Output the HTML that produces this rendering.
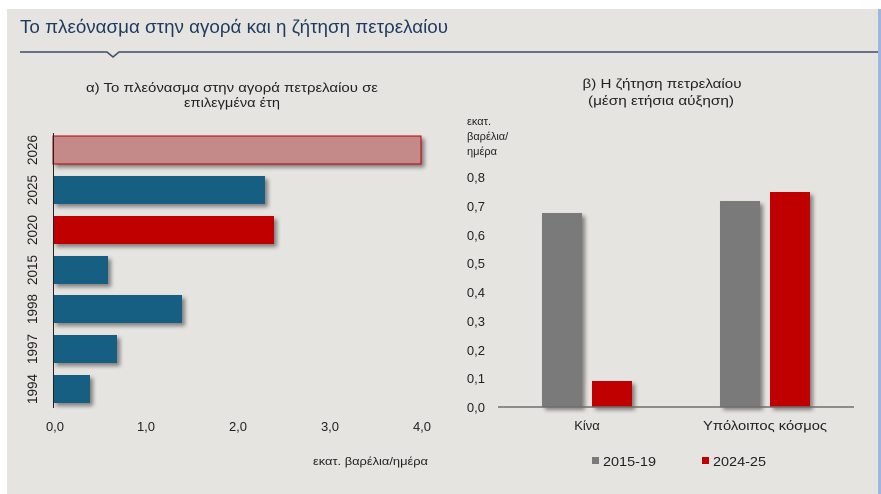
<!DOCTYPE html>
<html><head><meta charset="utf-8"><style>
html,body{margin:0;padding:0;background:#fff;}
svg{display:block;font-family:"Liberation Sans","DejaVu Sans",sans-serif;}
</style></head><body>
<svg width="881" height="494" viewBox="0 0 881 494" xmlns="http://www.w3.org/2000/svg">
<defs>
<filter id="sh" x="-10%" y="-20%" width="130%" height="160%"><feGaussianBlur in="SourceAlpha" stdDeviation="2"/><feOffset dx="3" dy="3"/><feComponentTransfer><feFuncA type="linear" slope="0.45"/></feComponentTransfer><feMerge><feMergeNode/><feMergeNode in="SourceGraphic"/></feMerge></filter>
</defs>
<rect x="0" y="0" width="881" height="494" fill="#ffffff"/>
<rect x="7" y="9" width="871" height="485" fill="#e6e4e0"/>
<rect x="878" y="9" width="3" height="485" fill="#9db6de"/>
<text x="20" y="33" font-size="18" fill="#1f3a5f" textLength="428" lengthAdjust="spacingAndGlyphs">Το πλεόνασμα στην αγορά και η ζήτηση πετρελαίου</text>
<polyline points="20,52 107,52 113,57 119,52 878,52" fill="none" stroke="#3d4e6a" stroke-width="1.5"/>
<g font-size="13" fill="#222" text-anchor="middle">
<text x="232" y="92" textLength="292" lengthAdjust="spacingAndGlyphs">α) Το πλεόνασμα στην αγορά πετρελαίου σε</text>
<text x="232" y="107" textLength="96" lengthAdjust="spacingAndGlyphs">επιλεγμένα έτη</text>
<text x="662" y="88" textLength="159" lengthAdjust="spacingAndGlyphs">β) Η ζήτηση πετρελαίου</text>
<text x="661" y="105" textLength="146" lengthAdjust="spacingAndGlyphs">(μέση ετήσια αύξηση)</text>
</g>
<!-- left chart -->
<g filter="url(#sh)">
<rect x="53" y="136" width="368" height="28" fill="#c48a8a" stroke="#c00000" stroke-width="1"/>
<rect x="53" y="176" width="212" height="28" fill="#175e83"/>
<rect x="53" y="216" width="221" height="28" fill="#c00000"/>
<rect x="53" y="256" width="55" height="28" fill="#175e83"/>
<rect x="53" y="295" width="129" height="28" fill="#175e83"/>
<rect x="53" y="335" width="64" height="28" fill="#175e83"/>
<rect x="53" y="375" width="37" height="28" fill="#175e83"/>
</g>
<line x1="53.5" y1="133" x2="53.5" y2="408" stroke="#222" stroke-width="1"/>
<g font-size="14" fill="#222" text-anchor="middle">
<text transform="translate(37,150) rotate(-90)" textLength="30" lengthAdjust="spacingAndGlyphs">2026</text>
<text transform="translate(37,190) rotate(-90)" textLength="30" lengthAdjust="spacingAndGlyphs">2025</text>
<text transform="translate(37,230) rotate(-90)" textLength="30" lengthAdjust="spacingAndGlyphs">2020</text>
<text transform="translate(37,270) rotate(-90)" textLength="30" lengthAdjust="spacingAndGlyphs">2015</text>
<text transform="translate(37,309) rotate(-90)" textLength="30" lengthAdjust="spacingAndGlyphs">1998</text>
<text transform="translate(37,349) rotate(-90)" textLength="30" lengthAdjust="spacingAndGlyphs">1997</text>
<text transform="translate(37,389) rotate(-90)" textLength="30" lengthAdjust="spacingAndGlyphs">1994</text>
</g>
<g font-size="13" fill="#222" text-anchor="middle">
<text x="55" y="431">0,0</text>
<text x="146" y="431">1,0</text>
<text x="238" y="431">2,0</text>
<text x="330" y="431">3,0</text>
<text x="422" y="431">4,0</text>
</g>
<text x="428" y="465" font-size="11" fill="#222" text-anchor="end" textLength="115" lengthAdjust="spacingAndGlyphs">εκατ. βαρέλια/ημέρα</text>
<!-- right chart -->
<g font-size="11" fill="#222">
<text x="467" y="125">εκατ.</text>
<text x="467" y="140">βαρέλια/</text>
<text x="467" y="155">ημέρα</text>
</g>
<g font-size="13" fill="#222" text-anchor="end">
<text x="485" y="182">0,8</text>
<text x="485" y="211">0,7</text>
<text x="485" y="240">0,6</text>
<text x="485" y="268">0,5</text>
<text x="485" y="297">0,4</text>
<text x="485" y="326">0,3</text>
<text x="485" y="355">0,2</text>
<text x="485" y="383">0,1</text>
<text x="485" y="412">0,0</text>
</g>
<g filter="url(#sh)">
<rect x="542" y="213" width="40" height="194" fill="#7a7a7a"/>
<rect x="592" y="381" width="40" height="26" fill="#c00000"/>
<rect x="720" y="201" width="40" height="206" fill="#7a7a7a"/>
<rect x="770" y="192" width="40" height="215" fill="#c00000"/>
</g>
<line x1="498" y1="407" x2="854" y2="407" stroke="#6e6e6e" stroke-width="1.5"/>
<g font-size="13" fill="#222" text-anchor="middle">
<text x="587" y="430">Κίνα</text>
<text x="765" y="430" textLength="124" lengthAdjust="spacingAndGlyphs">Υπόλοιπος κόσμος</text>
</g>
<rect x="592" y="457" width="7" height="7" fill="#7a7a7a"/>
<text x="603" y="466" font-size="13" fill="#222" textLength="53" lengthAdjust="spacingAndGlyphs">2015-19</text>
<rect x="702" y="457" width="7" height="7" fill="#c00000"/>
<text x="713" y="466" font-size="13" fill="#222" textLength="53" lengthAdjust="spacingAndGlyphs">2024-25</text>
</svg>
</body></html>
